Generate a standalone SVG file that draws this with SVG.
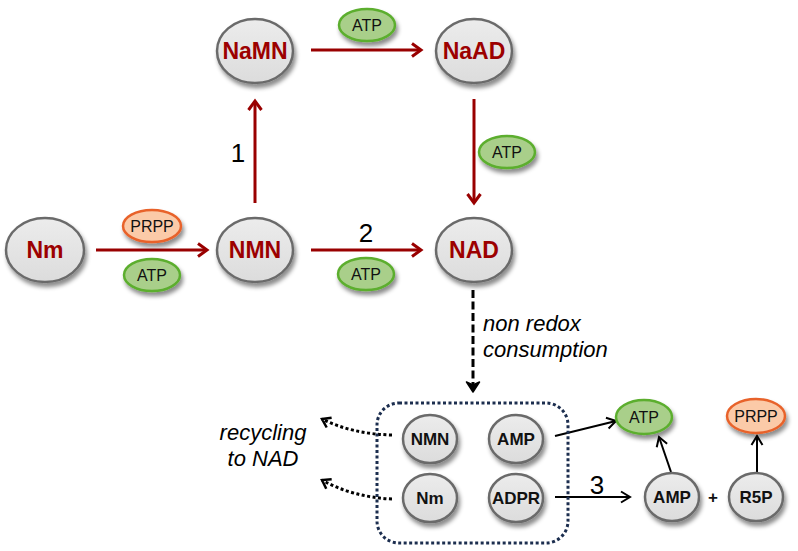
<svg xmlns="http://www.w3.org/2000/svg" width="798" height="551" viewBox="0 0 798 551">
<style>
.n{fill:url(#gray);stroke:#6b6b6b;stroke-width:2.5;filter:url(#sh)}
.atp{fill:#a9cf8a;stroke:#5bae2e;stroke-width:2.5;filter:url(#sh)}
.prpp{fill:#fbcaa8;stroke:#e8622a;stroke-width:2.5;filter:url(#sh)}
.tr{font-family:"Liberation Sans",Arial,sans-serif;font-weight:bold;font-size:23px;fill:#9c0000;text-anchor:middle}
.tb{font-family:"Liberation Sans",Arial,sans-serif;font-weight:bold;font-size:17px;fill:#111;text-anchor:middle}
.ts{font-family:"Liberation Sans",Arial,sans-serif;font-size:16px;fill:#111;text-anchor:middle}
.num{font-family:"Liberation Sans",Arial,sans-serif;font-size:26px;fill:#000;text-anchor:middle}
.it{font-family:"Liberation Sans",Arial,sans-serif;font-style:italic;font-size:22px;fill:#000}
.ra{fill:none;stroke:#990000;stroke-width:3;marker-end:url(#mr)}
.ba{fill:none;stroke:#000;stroke-width:2;marker-end:url(#mb)}
.da{fill:none;stroke:#000;stroke-width:3;stroke-dasharray:8 3.5;marker-end:url(#md)}
.dot{fill:none;stroke:#000;stroke-width:3;stroke-dasharray:3 2.5;marker-end:url(#mo)}
</style>
<defs>
<linearGradient id="gray" x1="0" y1="0" x2="0" y2="1">
<stop offset="0" stop-color="#ececec"/>
<stop offset="1" stop-color="#dcdcdc"/>
</linearGradient>
<filter id="sh" x="-30%" y="-30%" width="160%" height="170%">
<feDropShadow dx="2" dy="4" stdDeviation="2" flood-color="#000" flood-opacity="0.45"/>
</filter>
<marker id="mr" markerUnits="userSpaceOnUse" markerWidth="14" markerHeight="16" refX="11" refY="8" orient="auto">
<path d="M2,1.5 L11,8 L2,14.5" fill="none" stroke="#990000" stroke-width="3"/>
</marker>
<marker id="mb" markerUnits="userSpaceOnUse" markerWidth="14" markerHeight="14" refX="11" refY="7" orient="auto">
<path d="M2,1.5 L11,7 L2,12.5" fill="none" stroke="#000" stroke-width="2"/>
</marker>
<marker id="md" markerUnits="userSpaceOnUse" markerWidth="14" markerHeight="16" refX="11" refY="8" orient="auto">
<path d="M1,1.5 L11,8 L1,14.5 L4,8 z" fill="#000" stroke="#000" stroke-width="1.5" stroke-linejoin="round"/>
</marker>
<marker id="mo" markerUnits="userSpaceOnUse" markerWidth="14" markerHeight="14" refX="10" refY="7" orient="auto">
<path d="M2,1.5 L10,7 L2,12.5" fill="none" stroke="#000" stroke-width="2.5"/>
</marker>
</defs>
<rect width="798" height="551" fill="#fff"/>

<g id="connectors">
<path class="ra" d="M96,250 H207"/>
<path class="ra" d="M255,203 V101"/>
<path class="ra" d="M311,50 H421"/>
<path class="ra" d="M474,99 V203"/>
<path class="ra" d="M311,250 H421"/>
<path class="da" d="M473,290 V392"/>
<path class="dot" d="M392,435 Q352,434 322,419"/>
<path class="dot" d="M392,499 Q352,497 322,480"/>
<path class="ba" d="M555,436 L616,421"/>
<path class="ba" d="M555,497 H630"/>
<path class="ba" d="M671,472 L659,437"/>
<path class="ba" d="M757,472 V436"/>
<rect x="377" y="403" width="191" height="140" rx="22" fill="none" stroke="#1c2e4f" stroke-width="3" stroke-dasharray="3 2.5"/>
</g>

<g id="labels">
<text class="num" x="238" y="162">1</text>
<text class="num" x="366" y="242">2</text>
<text class="num" x="597" y="494">3</text>
<text class="it" x="483" y="331">non redox</text>
<text class="it" x="483" y="357">consumption</text>
<text class="it" x="263" y="440" text-anchor="middle">recycling</text>
<text class="it" x="263" y="466" text-anchor="middle">to NAD</text>
<text class="tb" x="713" y="503" font-size="18">+</text>
</g>

<g id="node-NaMN"><ellipse class="n" cx="255" cy="51" rx="38" ry="32"/><text class="tr" x="255" y="59">NaMN</text></g>
<g id="node-NaAD"><ellipse class="n" cx="474" cy="51" rx="38" ry="32"/><text class="tr" x="474" y="59">NaAD</text></g>
<g id="node-Nm"><ellipse class="n" cx="45" cy="250" rx="39" ry="32"/><text class="tr" x="45" y="258">Nm</text></g>
<g id="node-NMN"><ellipse class="n" cx="255" cy="250" rx="38" ry="32"/><text class="tr" x="255" y="258">NMN</text></g>
<g id="node-NAD"><ellipse class="n" cx="474" cy="250" rx="38" ry="32"/><text class="tr" x="474" y="258">NAD</text></g>

<g id="atp-top"><ellipse class="atp" cx="367" cy="25" rx="28" ry="16"/><text class="ts" x="367" y="31">ATP</text></g>
<g id="atp-right"><ellipse class="atp" cx="507" cy="152" rx="28" ry="16"/><text class="ts" x="507" y="158">ATP</text></g>
<g id="prpp-1"><ellipse class="prpp" cx="152" cy="226" rx="29" ry="16"/><text class="ts" x="152" y="232">PRPP</text></g>
<g id="atp-1"><ellipse class="atp" cx="152" cy="275" rx="28" ry="16"/><text class="ts" x="152" y="281">ATP</text></g>
<g id="atp-2"><ellipse class="atp" cx="366" cy="274" rx="28" ry="16"/><text class="ts" x="366" y="280">ATP</text></g>

<g id="node-box-NMN"><ellipse class="n" cx="430" cy="439" rx="27" ry="24"/><text class="tb" x="430" y="445">NMN</text></g>
<g id="node-box-AMP"><ellipse class="n" cx="516" cy="439" rx="27" ry="24"/><text class="tb" x="516" y="445">AMP</text></g>
<g id="node-box-Nm"><ellipse class="n" cx="430" cy="498" rx="27" ry="24"/><text class="tb" x="430" y="504">Nm</text></g>
<g id="node-box-ADPR"><ellipse class="n" cx="516" cy="498" rx="27" ry="24"/><text class="tb" x="516" y="504">ADPR</text></g>

<g id="atp-3"><ellipse class="atp" cx="644" cy="417" rx="28" ry="17"/><text class="ts" x="644" y="423">ATP</text></g>
<g id="prpp-2"><ellipse class="prpp" cx="756" cy="416" rx="29" ry="17"/><text class="ts" x="756" y="422">PRPP</text></g>
<g id="node-AMP"><ellipse class="n" cx="672" cy="497" rx="27" ry="24"/><text class="tb" x="672" y="503">AMP</text></g>
<g id="node-R5P"><ellipse class="n" cx="756" cy="497" rx="27" ry="24"/><text class="tb" x="756" y="503">R5P</text></g>
</svg>
